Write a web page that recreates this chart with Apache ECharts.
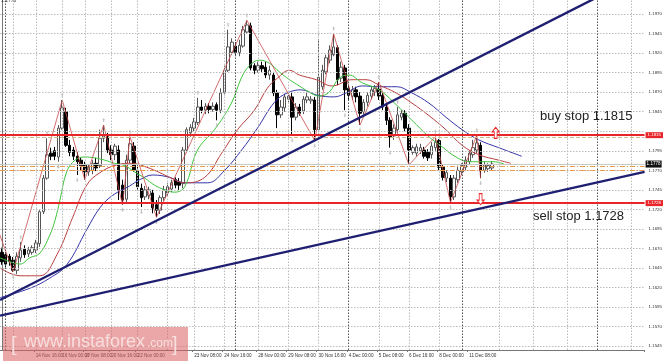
<!DOCTYPE html>
<html><head><meta charset="utf-8">
<script src="https://cdn.jsdelivr.net/npm/echarts@6/dist/echarts.min.js"></script>
<style>html,body{margin:0;padding:0;background:#fff}#c{width:665px;height:361px}</style>
</head><body><div id="c"></div>
<script>
// ---- data (EURUSD H4, 10 Nov - 12 Dec) ----
const slotCount = 171; // bar slots on the time axis (incl. empty future area)
// [open, close, low, high]
const ohlc = [
[1.1665,1.1653,1.1649,1.1671],[1.1662,1.1650,1.1646,1.1665],[1.1660,1.1653,1.1648,1.1663],[1.1655,1.1642,1.1640,1.1659],
[1.1642,1.1660,1.1637,1.1665],[1.1658,1.1668,1.1653,1.1678],[1.1669,1.1662,1.1658,1.1674],[1.1663,1.1668,1.1659,1.1672],
[1.1665,1.1671,1.1662,1.1674],[1.1668,1.1677,1.1664,1.1681],[1.1676,1.1717,1.1672,1.1719],[1.1717,1.1760,1.1714,1.1764],
[1.1760,1.1790,1.1758,1.1811],[1.1792,1.1788,1.1783,1.1799],[1.1795,1.1788,1.1783,1.1800],[1.1787,1.1824,1.1781,1.1828],
[1.1824,1.1850,1.1822,1.1860],[1.1845,1.1802,1.1800,1.1850],[1.1802,1.1793,1.1788,1.1809],[1.1796,1.1788,1.1783,1.1800],
[1.1788,1.1781,1.1764,1.1793],[1.1783,1.1776,1.1770,1.1787],[1.1777,1.1768,1.1758,1.1781],[1.1768,1.1774,1.1763,1.1778],
[1.1770,1.1779,1.1765,1.1783],[1.1779,1.1773,1.1769,1.1786],[1.1776,1.1811,1.1773,1.1822],[1.1811,1.1814,1.1806,1.1828],
[1.1813,1.1796,1.1792,1.1818],[1.1796,1.1790,1.1783,1.1802],[1.1790,1.1801,1.1783,1.1804],[1.1796,1.1745,1.1732,1.1802],
[1.1751,1.1732,1.1726,1.1758],[1.1733,1.1783,1.1729,1.1790],[1.1783,1.1804,1.1779,1.1813],[1.1801,1.1770,1.1768,1.1806],
[1.1770,1.1749,1.1745,1.1777],[1.1747,1.1735,1.1723,1.1753],[1.1736,1.1745,1.1732,1.1750],[1.1738,1.1745,1.1733,1.1749],
[1.1741,1.1722,1.1715,1.1745],[1.1726,1.1719,1.1710,1.1732],[1.1719,1.1735,1.1714,1.1738],[1.1735,1.1745,1.1731,1.1750],
[1.1741,1.1749,1.1737,1.1754],[1.1746,1.1754,1.1742,1.1758],[1.1758,1.1751,1.1747,1.1761],[1.1755,1.1751,1.1745,1.1760],
[1.1753,1.1796,1.1747,1.1800],[1.1796,1.1822,1.1793,1.1825],[1.1818,1.1825,1.1813,1.1829],[1.1824,1.1832,1.1820,1.1837],
[1.1831,1.1851,1.1828,1.1863],[1.1851,1.1847,1.1843,1.1860],[1.1847,1.1852,1.1842,1.1856],[1.1852,1.1848,1.1843,1.1856],
[1.1848,1.1852,1.1845,1.1857],[1.1854,1.1847,1.1834,1.1857],[1.1847,1.1869,1.1843,1.1875],[1.1869,1.1898,1.1866,1.1904],
[1.1898,1.1928,1.1896,1.1950],[1.1921,1.1934,1.1918,1.1939],[1.1929,1.1921,1.1916,1.1934],[1.1921,1.1930,1.1916,1.1937],
[1.1929,1.1950,1.1927,1.1955],[1.1947,1.1956,1.1945,1.1962],[1.1955,1.1901,1.1898,1.1959],[1.1904,1.1898,1.1893,1.1907],
[1.1898,1.1904,1.1895,1.1909],[1.1904,1.1900,1.1896,1.1909],[1.1902,1.1892,1.1888,1.1909],[1.1892,1.1898,1.1886,1.1904],
[1.1892,1.1869,1.1865,1.1896],[1.1869,1.1841,1.1824,1.1873],[1.1841,1.1851,1.1837,1.1860],[1.1850,1.1864,1.1845,1.1868],
[1.1861,1.1865,1.1857,1.1870],[1.1864,1.1838,1.1815,1.1869],[1.1838,1.1851,1.1834,1.1856],[1.1851,1.1843,1.1840,1.1855],
[1.1846,1.1861,1.1842,1.1865],[1.1860,1.1864,1.1856,1.1869],[1.1859,1.1861,1.1855,1.1865],[1.1860,1.1822,1.1808,1.1864],
[1.1822,1.1889,1.1819,1.1938],[1.1877,1.1898,1.1873,1.1905],[1.1896,1.1914,1.1893,1.1918],[1.1911,1.1924,1.1907,1.1930],
[1.1918,1.1928,1.1916,1.1945],[1.1927,1.1886,1.1879,1.1930],[1.1888,1.1902,1.1883,1.1909],[1.1901,1.1873,1.1847,1.1905],
[1.1875,1.1866,1.1860,1.1879],[1.1865,1.1873,1.1860,1.1878],[1.1873,1.1864,1.1857,1.1877],[1.1865,1.1843,1.1828,1.1870],
[1.1845,1.1857,1.1840,1.1861],[1.1857,1.1866,1.1852,1.1870],[1.1865,1.1873,1.1861,1.1877],[1.1870,1.1875,1.1865,1.1879],
[1.1874,1.1865,1.1860,1.1883],[1.1866,1.1851,1.1847,1.1870],[1.1851,1.1834,1.1828,1.1855],[1.1834,1.1813,1.1799,1.1838],
[1.1814,1.1824,1.1809,1.1829],[1.1822,1.1841,1.1818,1.1851],[1.1838,1.1843,1.1834,1.1847],[1.1843,1.1824,1.1820,1.1847],
[1.1824,1.1796,1.1777,1.1829],[1.1793,1.1799,1.1790,1.1802],[1.1792,1.1800,1.1788,1.1804],[1.1795,1.1799,1.1791,1.1804],
[1.1796,1.1788,1.1785,1.1800],[1.1793,1.1786,1.1782,1.1797],[1.1790,1.1801,1.1785,1.1806],[1.1799,1.1806,1.1795,1.1813],
[1.1808,1.1774,1.1770,1.1810],[1.1774,1.1761,1.1757,1.1778],[1.1760,1.1767,1.1755,1.1770],[1.1760,1.1736,1.1729,1.1764],
[1.1736,1.1760,1.1732,1.1764],[1.1758,1.1770,1.1754,1.1776],[1.1768,1.1776,1.1764,1.1779],[1.1774,1.1783,1.1770,1.1788],
[1.1781,1.1792,1.1777,1.1796],[1.1790,1.1799,1.1786,1.1809],[1.1796,1.1805,1.1792,1.1815],[1.1802,1.1770,1.1760,1.1806],
[1.1770,1.1777,1.1767,1.1781],[1.1772,1.1776,1.1768,1.1779],[1.1773,1.1778,1.1770,1.1782]
];
// Alligator lines [bar position, price]
const lips = [[-0.5,1.1658],[2.1,1.1653],[4.8,1.1650],[7.4,1.1658],[10.1,1.1664],[12.7,1.1687],[14.1,1.1706],[15.4,1.1732],[17.2,1.1768],[19.4,1.1783],[22.0,1.1787],[24.6,1.1786],[27.3,1.1783],[29.9,1.1779],[32.6,1.1776],[35.2,1.1768],[37.9,1.1760],[40.5,1.1751],[43.2,1.1745],[45.8,1.1742],[48.5,1.1749],[51.9,1.1796],[56.4,1.1822],[60.9,1.1856],[63.6,1.1889],[65.7,1.1904],[68.3,1.1911],[71.0,1.1907],[73.6,1.1896],[76.3,1.1886],[78.9,1.1878],[81.6,1.1870],[84.2,1.1865],[86.8,1.1870],[89.5,1.1888],[92.1,1.1892],[95.6,1.1882],[100.1,1.1873],[104.6,1.1854],[108.8,1.1834],[113.3,1.1813],[116.8,1.1800],[120.5,1.1787],[123.9,1.1781],[127.3,1.1781],[130.5,1.1781],[133.2,1.1778]];
const teeth = [[-0.5,1.1645],[4.8,1.1635],[10.1,1.1635],[14.6,1.1662],[18.8,1.1710],[22.5,1.1751],[26.0,1.1767],[30.5,1.1777],[34.7,1.1779],[38.4,1.1774],[41.9,1.1767],[44.5,1.1761],[48.5,1.1754],[53.8,1.1761],[58.3,1.1792],[62.5,1.1822],[67.0,1.1847],[70.4,1.1875],[73.1,1.1888],[76.3,1.1898],[78.9,1.1892],[83.4,1.1886],[87.6,1.1878],[92.9,1.1886],[96.6,1.1886],[100.1,1.1879],[104.6,1.1869],[108.8,1.1856],[113.3,1.1840],[117.8,1.1822],[122.1,1.1802],[126.5,1.1790],[131.8,1.1783],[135.0,1.1779]];
const jaw = [[-0.5,1.1607],[7.4,1.1619],[12.7,1.1632],[17.2,1.1649],[22.5,1.1694],[26.0,1.1722],[29.4,1.1738],[33.9,1.1750],[36.6,1.1758],[40.0,1.1764],[44.5,1.1761],[48.5,1.1754],[54.6,1.1754],[59.1,1.1770],[63.6,1.1796],[67.8,1.1824],[72.3,1.1857],[75.7,1.1869],[79.4,1.1873],[83.7,1.1866],[88.2,1.1864],[91.3,1.1869],[95.6,1.1878],[100.1,1.1877],[104.6,1.1877],[108.8,1.1869],[113.3,1.1856],[117.8,1.1838],[122.1,1.1822],[126.5,1.1809],[131.8,1.1799],[137.9,1.1788]];
const zigzag = [[-1.5,1.1700],[3,1.1640],[16,1.1860],[22,1.1758],[27,1.1828],[32,1.1726],[34,1.1813],[41,1.1710],[65,1.1962],[83,1.1808],[88,1.1945],[95,1.1828],[100,1.1883],[108,1.1777],[115,1.1813],[119,1.1729],[126,1.1815],[127,1.1760]];
const fractalUp = [[5,1.1678],[12,1.1811],[16,1.1860],[27,1.1828],[34,1.1813],[52,1.1863],[60,1.1950],[65,1.1962],[84,1.1938],[88,1.1945],[100,1.1883],[105,1.1851],[115,1.1813],[126,1.1815]];
const fractalDown = [[3,1.1640],[15,1.1781],[20,1.1764],[32,1.1726],[37,1.1723],[41,1.1710],[57,1.1834],[73,1.1824],[77,1.1815],[83,1.1808],[91,1.1847],[95,1.1828],[103,1.1799],[108,1.1777],[119,1.1729],[127,1.1760]];
const trendUpper = [[-0.5,1.1604],[160,1.19966]];
const trendLower = [[-0.5,1.1584],[170.5,1.1768]];
const buyStop = 1.1815, sellStop = 1.1728, bidPrice = 1.1778;
const orderLevels = [1.1775, 1.1770];
const pendingLevel = 1.1812;
const buyArrow = [131, 1.1818];
const sellArrow = [127, 1.1733];
// axes
const yTicks = [1.1545,1.1570,1.1595,1.1620,1.1645,1.1670,1.1695,1.1720,1.1745,1.1770,1.1795,1.1820,1.1845,1.1870,1.1895,1.1920,1.1945,1.1970];
const yLabelTicks = yTicks.filter(v => v !== 1.1820);
const labelIdx = [3,9,16,22,29,36,51,59,68,76,84,92,100,108,116,124];
const labelText = ['13 Nov 08:00','14 Nov 16:00','16 Nov 00:00','17 Nov 08:00','20 Nov 16:00','22 Nov 00:00','23 Nov 08:00','24 Nov 16:00','28 Nov 00:00','29 Nov 08:00','30 Nov 16:00','4 Dec 00:00','5 Dec 08:00','6 Dec 16:00','8 Dec 00:00','11 Dec 08:00'];
const gridX = [3,9,16,22,29,36,44,51,59,68,76,84,100,108,116,132,141,150,167];
const separatorX = [1,62,92,122,158];
const yMin = 1.1540, yMax = 1.1988;

const slots = Array.from({length: slotCount}, (_, i) => String(i));
const chart = echarts.init(document.getElementById('c'), null, {renderer: 'canvas'});
const FONT = 'Liberation Sans';
const upArrowPath = 'path://M5,0 L10,5 L7,5 L7,12 L3,12 L3,5 L0,5 Z';
const downArrowPath = 'path://M3,0 L7,0 L7,7 L10,7 L5,12 L0,7 L3,7 Z';

chart.setOption({
  animation: false,
  backgroundColor: '#fff',
  grid: {left: 0, right: 19, top: 0, bottom: 11, containLabel: false},
  xAxis: [
    {type: 'category', data: slots, boundaryGap: true,
     axisLine: {show: true, lineStyle: {color: '#777', width: 1}},
     axisTick: {show: true, interval: (i) => labelIdx.includes(i), length: 2, lineStyle: {color: '#777'}},
     axisLabel: {interval: (i) => labelIdx.includes(i), formatter: (v, i) => labelText[labelIdx.indexOf(i)] || '',
                 align: 'left', margin: 3, fontSize: 4.6, color: '#333', fontFamily: FONT},
     splitLine: {show: false}},
    {type: 'value', min: -0.5, max: slotCount - 0.5, show: false}
  ],
  yAxis: {type: 'value', position: 'right', min: yMin, max: yMax, scale: true,
    axisLine: {show: true, lineStyle: {color: '#777', width: 1}},
    axisTick: {show: true, length: 2, customValues: yLabelTicks, lineStyle: {color: '#777'}},
    axisLabel: {customValues: yLabelTicks, formatter: v => v.toFixed(4), fontSize: 4.4, color: '#333', margin: 4, fontFamily: FONT},
    splitLine: {show: false}},
  graphic: [
    {type: 'text', left: 1, top: -2, z: 50, style: {text: '1.1778', fontSize: 5, fill: '#333', fontFamily: FONT}},
    {type: 'text', x: 540, y: 116.2, z: 50, style: {text: 'buy stop 1.1815', fontSize: 13, fill: '#222', fontFamily: FONT, verticalAlign: 'middle'}},
    {type: 'text', x: 533, y: 216.2, z: 50, style: {text: 'sell stop 1.1728', fontSize: 13, fill: '#222', fontFamily: FONT, verticalAlign: 'middle'}},
    {type: 'rect', shape: {x: 3, y: 327, width: 185, height: 34}, z: 100, style: {fill: 'rgba(218,95,95,0.55)'}},
    {type: 'text', x: 11, y: 345, z: 101, style: {text: '[', fontSize: 20, fill: '#f7dede', fontFamily: FONT, verticalAlign: 'middle'}},
    {type: 'text', x: 24, y: 342, z: 101, style: {text: 'www.instaforex', fontSize: 18, fill: '#f7dede', fontFamily: FONT, verticalAlign: 'middle'}},
    {type: 'text', x: 147, y: 343.8, z: 101, style: {text: '.com', fontSize: 12, fill: '#f7dede', fontFamily: FONT, verticalAlign: 'middle'}},
    {type: 'text', x: 172, y: 345, z: 101, style: {text: ']', fontSize: 20, fill: '#f7dede', fontFamily: FONT, verticalAlign: 'middle'}}
  ],
  series: [
    // grid lines
    {type: 'line', xAxisIndex: 1, data: [], z: 0, silent: true,
     markLine: {silent: true, precision: 5, symbol: ['none','none'], label: {show: false},
       data: [
         ...yTicks.map(v => ({yAxis: v, lineStyle: {color: '#bcbcbc', type: [1.5,1.5], width: 1}})),
         ...gridX.map(v => ({xAxis: v, lineStyle: {color: '#bcbcbc', type: [1.5,1.5], width: 1}})),
         ...separatorX.map(v => ({xAxis: v, lineStyle: {color: '#555', type: [1.5,1.5], width: 1}}))
       ]}},
    // candles
    {type: 'candlestick', xAxisIndex: 0, data: ohlc, barWidth: 3, z: 3,
     itemStyle: {color: '#ffffff', color0: '#000000', borderColor: '#555', borderColor0: '#000', borderWidth: 1}},
    // alligator
    {type: 'line', xAxisIndex: 1, data: jaw, smooth: 0.4, symbol: 'none', z: 4, lineStyle: {color: '#3434a8', width: 1}},
    {type: 'line', xAxisIndex: 1, data: teeth, smooth: 0.4, symbol: 'none', z: 4, lineStyle: {color: '#b84040', width: 1}},
    {type: 'line', xAxisIndex: 1, data: lips, smooth: 0.4, symbol: 'none', z: 4, lineStyle: {color: '#3cc43c', width: 1}},
    // zigzag
    {type: 'line', xAxisIndex: 1, data: zigzag, symbol: 'none', z: 4, lineStyle: {color: '#c84848', width: 0.8}},
    // fractals
    {type: 'scatter', xAxisIndex: 1, data: fractalUp, symbol: upArrowPath, symbolSize: [3,4], symbolOffset: [0,-5], z: 4,
     itemStyle: {color: '#b4b4b4'}},
    {type: 'scatter', xAxisIndex: 1, data: fractalDown, symbol: downArrowPath, symbolSize: [3,4], symbolOffset: [0,5], z: 4,
     itemStyle: {color: '#b4b4b4'}},
    // trend lines + levels
    {type: 'line', xAxisIndex: 1, data: trendLower, symbol: 'none', z: 6, lineStyle: {color: '#1f1f72', width: 2.4}},
    {type: 'line', xAxisIndex: 1, data: trendUpper, symbol: 'none', z: 6, lineStyle: {color: '#1f1f72', width: 2.4},
     markLine: {silent: true, precision: 5, symbol: ['none','none'], z: 5,
       data: [
         {yAxis: pendingLevel, lineStyle: {color: '#d6b48c', type: [4,2], width: 1}, label: {show: false}},
         {yAxis: orderLevels[0], lineStyle: {color: '#e89a4a', type: [5,2,1,2], width: 1}, label: {show: false}},
         {yAxis: orderLevels[1], lineStyle: {color: '#e89a4a', type: [5,2,1,2], width: 1}, label: {show: false}},
         {yAxis: bidPrice, lineStyle: {color: '#c8c8c8', type: 'solid', width: 1},
          label: {show: true, position: 'end', distance: 1, formatter: p => Number(p.value).toFixed(4), color: '#fff', backgroundColor: '#111', fontSize: 4.6, padding: [1,1], fontFamily: FONT}},
         {yAxis: buyStop, lineStyle: {color: '#e8262a', type: 'solid', width: 2},
          label: {show: true, position: 'end', distance: 1, formatter: p => Number(p.value).toFixed(4), color: '#fff', backgroundColor: '#e8262a', fontSize: 4.4, padding: [1,2], fontFamily: FONT}},
         {yAxis: sellStop, lineStyle: {color: '#e8262a', type: 'solid', width: 2},
          label: {show: true, position: 'end', distance: 1, formatter: p => Number(p.value).toFixed(4), color: '#fff', backgroundColor: '#e8262a', fontSize: 4.4, padding: [1,2], fontFamily: FONT}}
       ]},
     markPoint: {silent: true, label: {show: false},
       data: [
         {coord: buyArrow, symbol: upArrowPath, symbolSize: [7,11], itemStyle: {color: '#fff', borderColor: '#e8262a', borderWidth: 1}},
         {coord: sellArrow, symbol: downArrowPath, symbolSize: [7,11], itemStyle: {color: '#fff', borderColor: '#e8262a', borderWidth: 1}}
       ]}}
  ]
});
</script>
</body></html>
